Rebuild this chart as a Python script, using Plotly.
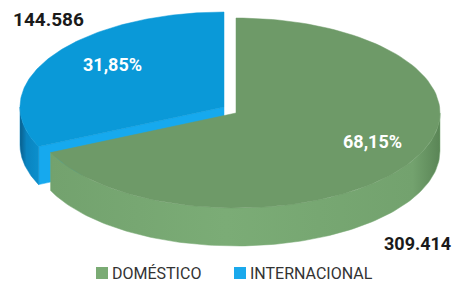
import numpy as np
import plotly.graph_objects as go

categories = ["DOMÉSTICO", "INTERNACIONAL"]
values = [309414, 144586]
value_labels = ["309.414", "144.586"]

top_colors = ["#6e9a68", "#0a99d8"]
wall_colors = ["#79aa74", "#0a86c2"]
wall_gradients = [
    [[0, "#73a26e"], [0.45, "#7bac76"], [0.93, "#73a26e"], [1, "#5a8556"]],
    [[0, "#0a5e8c"], [0.35, "#0a84c0"], [1, "#0b8fcc"]],
]
cut_colors = ["#79aa74", "#16a9ee"]
legend_colors = ["#7aab74", "#1aa9ec"]

W, H = 456, 287
cx, cy, rx, ry, depth = 236, 113, 204, 95, 38
pull = [(0, 0), (-12, -6)]

total = sum(values)
fracs = [v / total for v in values]


def pt(theta_deg, dx=0, dy=0, down=0):
    t = np.radians(theta_deg)
    return cx + dx + rx * np.cos(t), cy + dy - ry * np.sin(t) + down


def arc(t0, t1, dx=0, dy=0, down=0, n=120):
    ts = np.linspace(t0, t1, n)
    xs, ys = zip(*[pt(t, dx, dy, down) for t in ts])
    return list(xs), list(ys)


fig = go.Figure()


def add_poly(xs, ys, color, gradient=None):
    kw = {}
    if gradient is not None:
        kw["fillgradient"] = dict(type="horizontal", colorscale=gradient)
    fig.add_trace(go.Scatter(x=xs + [xs[0]], y=ys + [ys[0]], fill="toself", mode="lines",
                             line=dict(width=0.5, color=color), fillcolor=color,
                             showlegend=False, hoverinfo="skip", **kw))


# slice angle spans: start at 12 o'clock, go clockwise (decreasing angle)
spans = []
a = 90.0
for f in fracs:
    spans.append((a, a - 360 * f))
    a -= 360 * f


def front_segments(s, e):
    """Parts of the arc [e, s] (e < s) where the wall faces the viewer (sin < 0)."""
    segs = []
    for k in range(-2, 2):
        lo, hi = -180 + 360 * k, 0 + 360 * k
        a0, a1 = max(e, lo), min(s, hi)
        if a1 > a0:
            segs.append((a0, a1))
    return segs


# draw the exploded slice (index 1) first, then the main slice
for i in [1, 0]:
    s, e = spans[i]
    dx, dy = pull[i]
    ax, ay = cx + dx, cy + dy
    # radial cut face at the start angle of slice 1 faces the viewer
    if i == 1:
        px, py = pt(s, dx, dy)
        add_poly([ax, px, px, ax], [ay, py, py + depth, ay + depth], cut_colors[i])
    for (t0, t1) in front_segments(s, e):
        tx, ty = arc(t0, t1, dx, dy)
        bx, by = arc(t1, t0, dx, dy, down=depth)
        add_poly(tx + bx, ty + by, wall_colors[i], wall_gradients[i])
    tx, ty = arc(s, e, dx, dy)
    add_poly([ax] + tx, [ay] + ty, top_colors[i])

# percentage labels
pct_text = [f"{f*100:.2f}%".replace(".", ",") for f in fracs]
pct_pos = [(372, 141), (112, 64)]
for txt, (x, y) in zip(pct_text, pct_pos):
    fig.add_annotation(x=x, y=y, text=f"<b>{txt}</b>", showarrow=False,
                       font=dict(family="Roboto", size=18, color="white"))

# value labels
fig.add_annotation(x=453, y=243, xanchor="right", text=f"<b>{value_labels[0]}</b>", showarrow=False,
                   font=dict(family="Roboto", size=18, color="#1a1a1a"))
fig.add_annotation(x=11, y=19, xanchor="left", text=f"<b>{value_labels[1]}</b>", showarrow=False,
                   font=dict(family="Roboto", size=19, color="#1a1a1a"))

# legend (manual, compact)
leg_sq_x = [102, 240]
leg_y = 273
for name, c, x in zip(categories, legend_colors, leg_sq_x):
    fig.add_trace(go.Scatter(x=[x], y=[leg_y], mode="markers", showlegend=False, hoverinfo="skip",
                             marker=dict(symbol="square", size=12, color=c, line=dict(width=0))))
    fig.add_annotation(x=x + 8, y=leg_y, xanchor="left", text=name, showarrow=False,
                       font=dict(family="Roboto", size=16, color="#333333"))

fig.update_layout(
    width=W, height=H, margin=dict(l=0, r=0, t=0, b=0),
    paper_bgcolor="white", plot_bgcolor="white",
    xaxis=dict(range=[0, W], visible=False, fixedrange=True),
    yaxis=dict(range=[H, 0], visible=False, fixedrange=True),
    showlegend=False,
)

fig.write_html("out.html", config={"displayModeBar": False},
               post_script="document.body.style.margin='0';document.body.style.overflow='hidden';")
